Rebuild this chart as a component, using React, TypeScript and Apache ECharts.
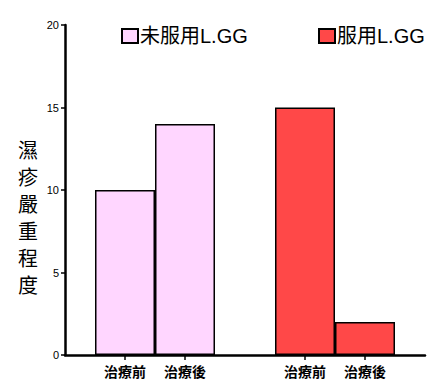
import React, { useEffect, useRef } from "react";
import * as echarts from "echarts";

const categories = ["治療前", "治療後"];
const untreatedName = "未服用L.GG";
const treatedName = "服用L.GG";
const untreatedValues = [10, 14];
const treatedValues = [15, 2];
const yTicks = { min: 0, max: 20, interval: 5 };
const yTitle = "濕疹嚴重程度";

const axisData = ["", ...categories, "", ...categories, ""];
const untreatedData: (number | string)[] = ["-", ...untreatedValues, "-", "-", "-", "-"];
const treatedData: (number | string)[] = ["-", "-", "-", "-", ...treatedValues, "-"];

export default function App() {
  const ref = useRef<HTMLDivElement>(null);
  useEffect(() => {
    if (!ref.current) return;
    const chart = echarts.init(ref.current, undefined, { renderer: "svg" });
    const border = { borderColor: "#000", borderWidth: 1.5 };
    const legendText = {
      fontFamily: "Liberation Sans, Noto Sans CJK TC",
      fontSize: 20,
      color: "#000",
      padding: [0, 0, 0, -3],
    };
    chart.setOption({
      animation: false,
      backgroundColor: "#fff",
      grid: { left: 65, right: 10, top: 25, bottom: 34, containLabel: false },
      legend: [
        {
          data: [untreatedName],
          left: 121,
          top: 26,
          padding: 0,
          icon: "rect",
          itemWidth: 16,
          itemHeight: 14,
          textStyle: legendText,
        },
        {
          data: [treatedName],
          left: 318,
          top: 26,
          padding: 0,
          icon: "rect",
          itemWidth: 16,
          itemHeight: 14,
          textStyle: legendText,
        },
      ],
      graphic: [
        {
          type: "text",
          left: 18,
          top: 136,
          style: {
            text: yTitle.split("").join("\n"),
            font: "normal 20px 'Noto Sans CJK TC'",
            lineHeight: 27,
            fill: "#000",
            align: "left",
          },
        },
      ],
      xAxis: {
        type: "category",
        data: axisData,
        boundaryGap: false,
        axisLine: { lineStyle: { color: "#000", width: 2.5 } },
        axisTick: {
          length: 5,
          lineStyle: { color: "#000", width: 1.5 },
          interval: (i: number, v: string) => v !== "",
        },
        axisLabel: {
          interval: (i: number, v: string) => v !== "",
          color: "#000",
          fontSize: 14,
          fontWeight: "bold",
          fontFamily: "Noto Sans CJK TC",
          margin: 9,
        },
      },
      yAxis: {
        type: "value",
        min: yTicks.min,
        max: yTicks.max,
        interval: yTicks.interval,
        axisLine: { show: true, lineStyle: { color: "#000", width: 2.5 } },
        axisTick: { show: true, length: 4, lineStyle: { color: "#000", width: 1.5 } },
        axisLabel: { color: "#000", fontSize: 11, fontFamily: "Liberation Sans", margin: 6 },
        splitLine: { show: false },
      },
      series: [
        {
          name: untreatedName,
          type: "bar",
          data: untreatedData,
          barWidth: 60,
          barGap: "-100%",
          itemStyle: { color: "#ffd6ff", ...border },
        },
        {
          name: treatedName,
          type: "bar",
          data: treatedData,
          barWidth: 60,
          barGap: "-100%",
          itemStyle: { color: "#ff4848", ...border },
        },
      ],
    });
    return () => chart.dispose();
  }, []);
  return <div ref={ref} style={{ width: 435, height: 389, position: "absolute", left: 0, top: 0 }} />;
}
